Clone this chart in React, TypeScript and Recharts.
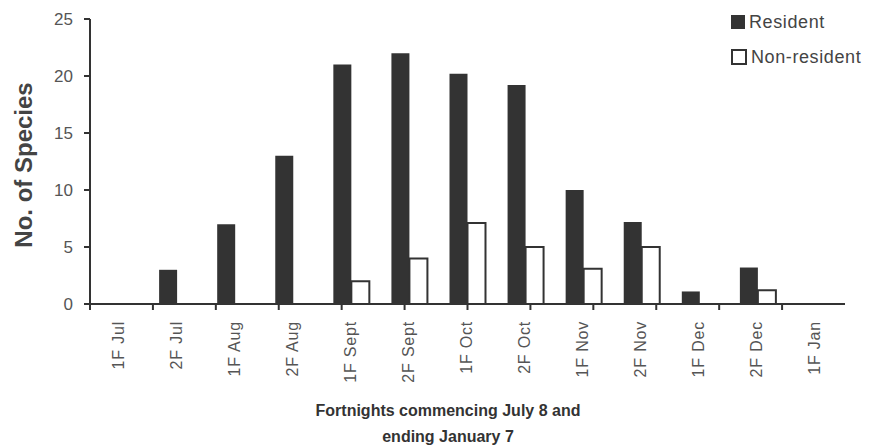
import { BarChart, Bar, XAxis, YAxis } from "recharts"

const fortnights = [
  "1F Jul", "2F Jul", "1F Aug", "2F Aug", "1F Sept", "2F Sept", "1F Oct",
  "2F Oct", "1F Nov", "2F Nov", "1F Dec", "2F Dec", "1F Jan",
]
const resident = [0, 3, 7, 13, 21, 22, 20.2, 19.2, 10, 7.2, 1.1, 3.2, 0]
const nonResident = [0, 0, 0, 0, 2, 4, 7.1, 5, 3.1, 5, 0, 1.2, 0]
const yTicks = [0, 5, 10, 15, 20, 25]
const boundaryTicks = [0, 1, 2, 3, 4, 5, 6, 7, 8, 9, 10, 11, 12, 13]

const data = fortnights.map((f, i) => ({
  name: f,
  resident: resident[i],
  nonResident: nonResident[i],
}))

const FONT = "'Liberation Sans', Arial, sans-serif"
const DARK = "#333"

function XTick({ x, y, payload }: any) {
  const tx = x - 1
  return (
    <text
      x={tx}
      y={y}
      transform={`rotate(-90, ${tx}, ${y})`}
      textAnchor="end"
      dominantBaseline="central"
      fontSize={16}
      letterSpacing={0.8}
      fill="#555"
      fontFamily={FONT}
    >
      {payload.value}
    </text>
  )
}

function LegendBox() {
  return (
    <div
      style={{
        position: "absolute",
        left: 731,
        top: 12,
        fontFamily: FONT,
        fontSize: 18,
        letterSpacing: 0.6,
        color: "#444",
        lineHeight: "20px",
      }}
    >
      <div style={{ display: "flex", alignItems: "center", height: 20 }}>
        <span style={{ width: 14, height: 14, background: DARK, marginRight: 4 }} />
        Resident
      </div>
      <div style={{ display: "flex", alignItems: "center", height: 20, marginTop: 15 }}>
        <span
          style={{
            width: 12,
            height: 12,
            border: `2px solid ${DARK}`,
            marginRight: 4,
            background: "#fff",
          }}
        />
        Non-resident
      </div>
    </div>
  )
}

export default function App() {
  return (
    <div style={{ position: "absolute", left: 0, top: 0, width: 870, height: 446, background: "#fff" }}>
      <BarChart
        width={870}
        height={446}
        data={data}
        margin={{ top: 19, right: 25, bottom: 0, left: 60 }}
        barCategoryGap="19%"
        barGap={0}
      >
        <XAxis
          xAxisId="bounds"
          type="number"
          domain={[0, 13]}
          ticks={boundaryTicks}
          tick={() => <g />}
          tickSize={6}
          height={1}
          stroke={DARK}
          strokeWidth={2}
          allowDataOverflow
        />
        <XAxis
          xAxisId="cat"
          dataKey="name"
          interval={0}
          tickLine={false}
          axisLine={false}
          tickSize={0}
          tickMargin={16}
          height={141}
          tick={<XTick />}
          label={{
            content: () => (
              <g fontFamily={FONT} fontWeight="bold" fontSize={16} fill="#333" textAnchor="middle">
                <text x={448} y={416}>Fortnights commencing July 8 and</text>
                <text x={448} y={442}>ending January 7</text>
              </g>
            ),
          }}
        />
        <YAxis
          domain={[0, 25]}
          ticks={yTicks}
          width={30}
          tickSize={6}
          tickMargin={11}
          stroke={DARK}
          strokeWidth={2}
          tick={{ fill: "#555", fontSize: 17, fontFamily: FONT }}
          label={{
            content: () => (
              <text
                x={32}
                y={165}
                transform="rotate(-90, 32, 165)"
                textAnchor="middle"
                fontFamily={FONT}
                fontWeight="bold"
                fontSize={24}
                fill="#444"
              >
                No. of Species
              </text>
            ),
          }}
        />
        <Bar
          xAxisId="cat"
          dataKey="resident"
          name="Resident"
          fill={DARK}
          isAnimationActive={false}
        />
        <Bar
          xAxisId="cat"
          dataKey="nonResident"
          name="Non-resident"
          fill="#fff"
          stroke={DARK}
          strokeWidth={2}
          isAnimationActive={false}
        />
      </BarChart>
      <LegendBox />
    </div>
  )
}
